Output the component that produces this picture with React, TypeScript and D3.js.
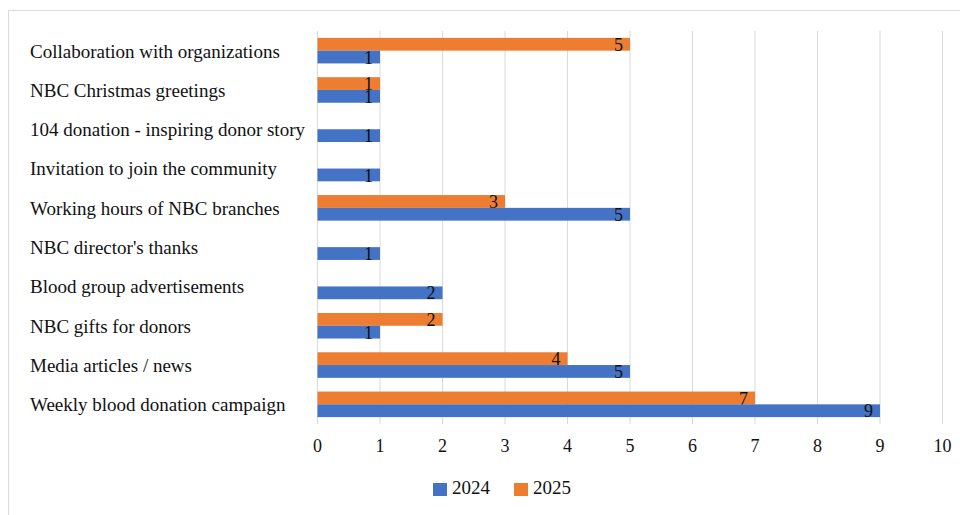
import React from "react";
import * as d3 from "d3";

const categories = [
  "Collaboration with organizations",
  "NBC Christmas greetings",
  "104 donation - inspiring donor story",
  "Invitation to join the community",
  "Working hours of NBC branches",
  "NBC director's thanks",
  "Blood group advertisements",
  "NBC gifts for donors",
  "Media articles / news",
  "Weekly blood donation campaign",
];
const values2024 = [1, 1, 1, 1, 5, 1, 2, 1, 5, 9];
const values2025 = [5, 1, 0, 0, 3, 0, 0, 2, 4, 7];
const seriesNames = ["2025", "2024"];
const seriesColors: Record<string, string> = { "2024": "#4472C4", "2025": "#ED7D31" };
const xTicks = [0, 1, 2, 3, 4, 5, 6, 7, 8, 9, 10];

const FONT = "'Liberation Serif', 'Times New Roman', serif";

export default function App() {
  const W = 960;
  const H = 515;
  const x = d3.scaleLinear().domain([0, 10]).range([317.5, 942.5]);
  const y = d3
    .scaleBand<string>()
    .domain(categories)
    .range([31, 424])
    .paddingInner(0.35)
    .paddingOuter(0.175);
  const inner = d3.scaleBand<string>().domain(seriesNames).range([0, y.bandwidth()]);
  const getVal = (s: string, i: number) => (s === "2024" ? values2024[i] : values2025[i]);

  return (
    <div style={{ position: "absolute", left: 0, top: 0 }}>
      <svg width={W} height={H} style={{ display: "block", background: "#fff" }}>
        <rect x={8.5} y={10.5} width={1000} height={600} fill="#fff" stroke="#d9d9d9" strokeWidth={1} />
        {xTicks.map((t) => (
          <line key={"g" + t} x1={x(t)} x2={x(t)} y1={31} y2={424} stroke="#d9d9d9" strokeWidth={1} />
        ))}
        {categories.map((c, i) =>
          seriesNames.map((s) => {
            const v = getVal(s, i);
            if (!v) return null;
            const by = (y(c) as number) + (inner(s) as number);
            const bh = inner.bandwidth();
            return (
              <g key={c + s}>
                <rect x={x(0)} y={by} width={x(v) - x(0)} height={bh} fill={seriesColors[s]} />
                <text
                  x={x(v) - 7}
                  y={by + bh / 2 + 2.5}
                  textAnchor="end"
                  dominantBaseline="middle"
                  fontFamily={FONT}
                  fontSize={18}
                  fill="#111"
                >
                  {v}
                </text>
              </g>
            );
          })
        )}
        {categories.map((c) => (
          <text
            key={"l" + c}
            x={30}
            y={(y(c) as number) + y.bandwidth() / 2 + 2.5}
            dominantBaseline="middle"
            fontFamily={FONT}
            fontSize={19}
            fill="#111"
          >
            {c}
          </text>
        ))}
        {xTicks.map((t) => (
          <text
            key={"t" + t}
            x={x(t)}
            y={448}
            textAnchor="middle"
            dominantBaseline="middle"
            fontFamily={FONT}
            fontSize={18}
            fill="#111"
          >
            {t}
          </text>
        ))}
        {["2024", "2025"].map((s, i) => (
          <g key={"leg" + s} transform={`translate(${433 + i * 81},0)`}>
            <rect x={0} y={483} width={14} height={13} fill={seriesColors[s]} />
            <text x={19} y={490} dominantBaseline="middle" fontFamily={FONT} fontSize={19} fill="#111">
              {s}
            </text>
          </g>
        ))}
      </svg>
    </div>
  );
}
